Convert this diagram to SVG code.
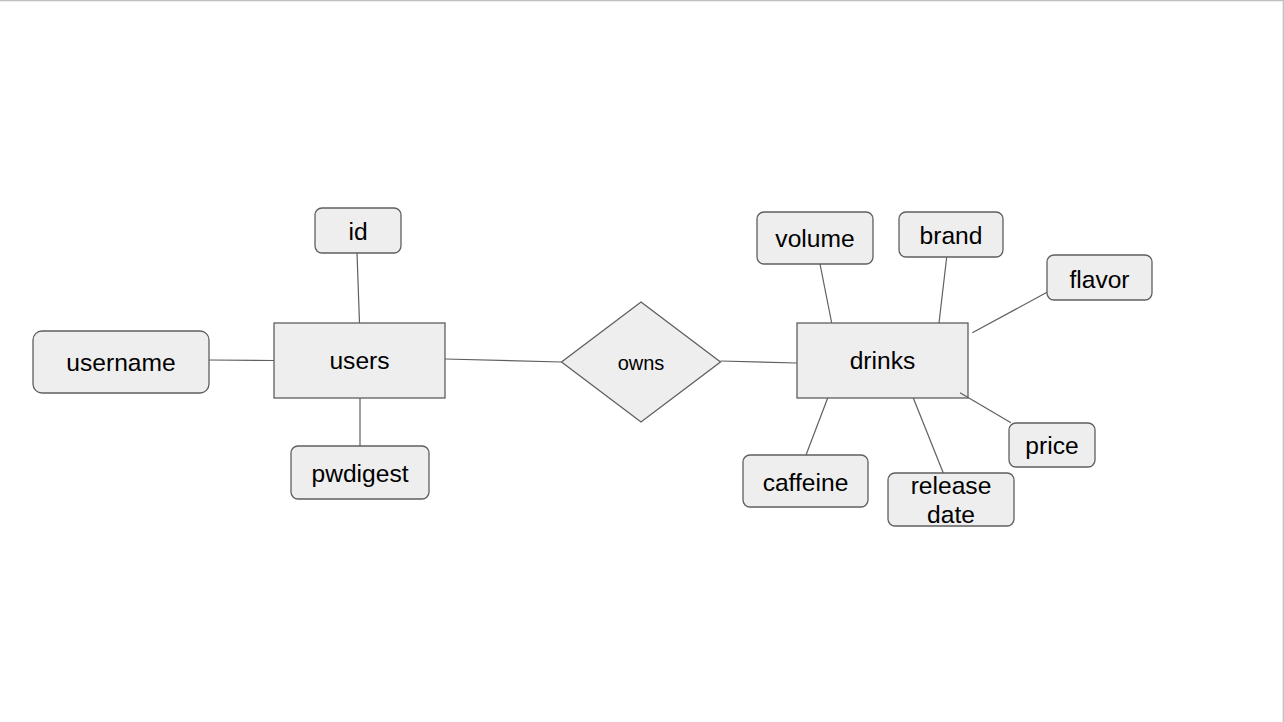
<svg xmlns="http://www.w3.org/2000/svg" width="1284" height="722" viewBox="0 0 1284 722">
<style>
.n{fill:#eeeeee;stroke:#5f5f5f;stroke-width:1.3}
.t{font-family:"Liberation Sans",Arial,sans-serif;font-size:24.6px;fill:#000;text-anchor:middle}
.c line{stroke:#5f5f5f;stroke-width:1.2}
</style>
<rect x="0" y="0" width="1284" height="722" fill="#fff"/>
<line x1="0" y1="0.5" x2="1284" y2="0.5" stroke="#c0c0c0" stroke-width="1.5"/>
<line x1="1283.3" y1="0" x2="1283.3" y2="722" stroke="#c0c0c0" stroke-width="1.3"/>
<g id="users"><rect class="n" x="274" y="323" width="171" height="75"/><text class="t" x="359.5" y="369">users</text></g>
<g id="id"><rect class="n" x="315" y="208" width="86" height="45" rx="7"/><text class="t" x="358" y="239.5">id</text></g>
<g id="username"><rect class="n" x="33" y="331" width="176" height="62" rx="9"/><text class="t" x="121" y="370.5">username</text></g>
<g id="pwdigest"><rect class="n" x="291" y="446" width="138" height="53" rx="7"/><text class="t" x="360" y="481.5">pwdigest</text></g>
<g id="owns"><polygon class="n" points="641,302 720.5,362 641,422 561.5,362"/><text class="t" x="641" y="370" style="font-size:20px">owns</text></g>
<g id="drinks"><rect class="n" x="797" y="323" width="171" height="75"/><text class="t" x="882.5" y="368.5">drinks</text></g>
<g id="volume"><rect class="n" x="757" y="212" width="116" height="52" rx="7"/><text class="t" x="815" y="246.5">volume</text></g>
<g id="brand"><rect class="n" x="899" y="212" width="104" height="45" rx="7"/><text class="t" x="951" y="243.5">brand</text></g>
<g id="flavor"><rect class="n" x="1047" y="255" width="105" height="45" rx="7"/><text class="t" x="1099.5" y="287.5">flavor</text></g>
<g id="price"><rect class="n" x="1009" y="423" width="86" height="44" rx="7"/><text class="t" x="1052" y="454">price</text></g>
<g id="caffeine"><rect class="n" x="743" y="455" width="125" height="52" rx="7"/><text class="t" x="805.5" y="490.5">caffeine</text></g>
<g id="release-date"><rect class="n" x="888" y="473" width="126" height="53" rx="7"/><text class="t" x="951" y="493.5">release</text><text class="t" x="951" y="523">date</text></g>
<g class="c" id="connectors">
<line x1="357" y1="253" x2="359.5" y2="323"/>
<line x1="209" y1="360" x2="274" y2="360.5"/>
<line x1="360" y1="398" x2="360" y2="446"/>
<line x1="445" y1="359" x2="561.5" y2="362"/>
<line x1="720.5" y1="361" x2="797" y2="363"/>
<line x1="820" y1="264" x2="831.7" y2="323"/>
<line x1="946.7" y1="257" x2="939" y2="323"/>
<line x1="1047" y1="292.3" x2="972.3" y2="332.7"/>
<line x1="1011" y1="422.7" x2="960" y2="392.7"/>
<line x1="827.7" y1="398" x2="806" y2="455"/>
<line x1="913.3" y1="398" x2="943.3" y2="473"/>
</g>
</svg>
